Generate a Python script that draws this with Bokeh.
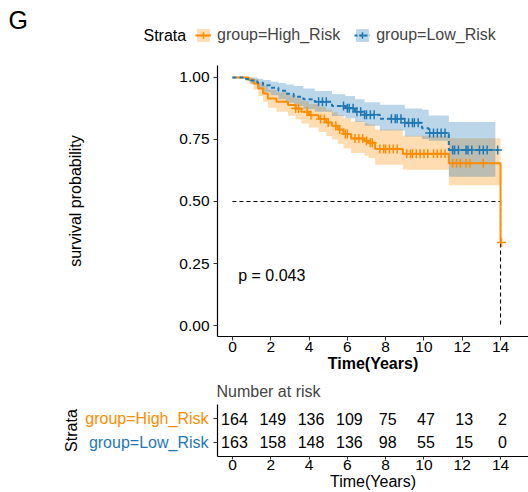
import numpy as np
from bokeh.plotting import figure
from bokeh.models import Range1d, FixedTicker, Label, Legend, LegendItem, ColumnDataSource
from bokeh.layouts import column, row
from bokeh.embed import file_html
from bokeh.resources import INLINE
from bokeh.core.properties import value

FONT = "Liberation Sans"
ORANGE = "#FF8C00"
BLUE = "#1F78B4"

groups = ["group=High_Risk", "group=Low_Risk"]
legend_title = "Strata"
panel_tag = "G"

# High risk KM steps
high_t = [0, 0.85, 1.1, 1.35, 1.6, 1.85, 2.3, 2.9, 3.3, 3.6, 4.0, 4.5, 4.9, 5.2, 5.5, 5.8, 6.2, 6.9, 7.1, 7.45, 8.9, 11.3, 14.0]
high_s = [1.0, 0.991, 0.975, 0.955, 0.935, 0.915, 0.902, 0.889, 0.875, 0.862, 0.848, 0.832, 0.818, 0.805, 0.79, 0.772, 0.754, 0.745, 0.737, 0.712, 0.692, 0.654, 0.335]
high_lo = [1.0, 0.974, 0.95, 0.925, 0.902, 0.878, 0.862, 0.846, 0.83, 0.814, 0.798, 0.78, 0.764, 0.75, 0.733, 0.714, 0.695, 0.684, 0.675, 0.648, 0.628, 0.565]
high_up = [1.0, 1.0, 0.995, 0.982, 0.967, 0.95, 0.94, 0.928, 0.916, 0.905, 0.893, 0.882, 0.87, 0.86, 0.848, 0.835, 0.822, 0.815, 0.81, 0.79, 0.765, 0.755]
high_end = 14.05
high_band_end = 14.0
high_censor = [3.3, 3.45, 3.9, 4.1, 4.6, 4.8, 5.0, 5.4, 5.6, 5.9, 6.0, 6.4, 6.6, 6.8, 7.0, 7.2, 7.3, 7.7, 7.9, 8.0,
               8.2, 8.4, 8.6, 9.1, 9.3, 9.4, 9.6, 9.8, 10.0, 10.2, 10.5, 10.7, 10.9, 11.1, 11.5, 11.7, 11.9,
               12.2, 12.4, 13.1, 14.05]

# Low risk KM steps
low_t = [0, 0.7, 0.95, 1.3, 1.6, 2.0, 2.4, 2.8, 3.2, 3.7, 4.3, 5.2, 5.9, 6.4, 6.9, 7.7, 9.0, 9.9, 10.25, 11.3]
low_s = [1.0, 0.994, 0.988, 0.978, 0.968, 0.958, 0.946, 0.934, 0.922, 0.912, 0.902, 0.885, 0.876, 0.862, 0.85, 0.833, 0.817, 0.795, 0.776, 0.708]
low_lo = [1.0, 0.985, 0.972, 0.955, 0.94, 0.928, 0.912, 0.898, 0.885, 0.872, 0.862, 0.845, 0.835, 0.82, 0.805, 0.786, 0.762, 0.752, 0.745, 0.60]
low_up = [1.0, 1.0, 1.0, 0.995, 0.99, 0.983, 0.977, 0.971, 0.965, 0.955, 0.945, 0.932, 0.925, 0.912, 0.9, 0.89, 0.875, 0.87, 0.847, 0.82]
low_end = 13.9
low_band_end = 13.73
low_censor = [4.5, 4.7, 4.9, 5.8, 6.0, 6.1, 6.3, 6.5, 6.7, 6.9, 7.0, 7.2, 7.4, 8.3, 8.5, 8.6, 8.8, 9.0, 9.2, 9.4,
              9.5, 9.7, 10.3, 10.5, 10.7, 10.9, 11.1, 11.5, 11.6, 11.8, 12.2, 12.3, 12.5, 12.9, 13.1, 13.3, 13.85]

p_value_text = "p = 0.043"
median_level = 0.5

risk_times = [0, 2, 4, 6, 8, 10, 12, 14]
risk_high = [164, 149, 136, 109, 75, 47, 13, 2]
risk_low = [163, 158, 148, 136, 98, 55, 15, 0]
risk_rows = [1, 0]

y_ticks = [0, 0.25, 0.5, 0.75, 1.0]
y_tick_labels = ["0.00", "0.25", "0.50", "0.75", "1.00"]
x_ticks = [0, 2, 4, 6, 8, 10, 12, 14]


def surv_at(ts, ss, times):
    idx = np.searchsorted(np.asarray(ts), np.asarray(times), side="right") - 1
    return np.asarray(ss)[idx]


def style_axes(fig, tick_size="15.5px"):
    fig.xgrid.visible = False
    fig.ygrid.visible = False
    fig.outline_line_color = None
    for ax in fig.xaxis + fig.yaxis:
        ax.axis_line_color = "black"
        ax.axis_line_width = 1.2
        ax.major_tick_line_color = "#333333"
        ax.major_tick_out = 4
        ax.major_tick_in = 0
        ax.minor_tick_line_color = None
        ax.major_label_text_font = FONT
        ax.major_label_text_font_size = tick_size
        ax.major_label_text_color = "black"
        ax.axis_label_text_font = FONT
        ax.axis_label_text_font_size = "16px"
        ax.axis_label_text_color = "black"
        ax.axis_label_text_font_style = "normal"


def blank_fig(w, h, y_range=None):
    f = figure(width=w, height=h, x_range=Range1d(0, w),
               y_range=y_range if y_range is not None else Range1d(h, 0),
               output_backend="svg", toolbar_location=None,
               min_border_left=0, min_border_right=0, min_border_top=0, min_border_bottom=0)
    f.axis.visible = False
    f.grid.visible = False
    f.outline_line_color = None
    return f


XR = (-0.78, 15.46)

# ---------- header: panel tag + legend ----------
hdr = blank_fig(528, 65)
hdr.add_layout(Label(x=8, y=19, text=panel_tag, text_font=FONT, text_font_size="25px",
                     text_align="left", text_baseline="middle", text_color="black"))
hdr.add_layout(Label(x=143, y=35, text=legend_title, text_font=FONT, text_font_size="16px",
                     text_align="left", text_baseline="middle", text_color="black"))
nan = np.array([np.nan])
key_src = ColumnDataSource(dict(left=nan, right=nan, top=nan, bottom=nan, x=nan, y=nan))
h_box = hdr.quad(source=key_src, left="left", right="right", top="top", bottom="bottom",
                 fill_color=ORANGE, fill_alpha=0.3, line_color=None)
h_line = hdr.line(source=key_src, x="x", y="y", line_color=ORANGE, line_width=2)
h_mark = hdr.scatter(source=key_src, x="x", y="y", marker="cross", line_color=ORANGE, line_width=1.5)
l_box = hdr.quad(source=key_src, left="left", right="right", top="top", bottom="bottom",
                 fill_color=BLUE, fill_alpha=0.3, line_color=None)
l_line = hdr.line(source=key_src, x="x", y="y", line_color=BLUE, line_width=2, line_dash="3 2")
l_mark = hdr.scatter(source=key_src, x="x", y="y", marker="cross", line_color=BLUE, line_width=1.5)
legend = Legend(items=[LegendItem(label=groups[0], renderers=[h_box, h_line, h_mark]),
                       LegendItem(label=groups[1], renderers=[l_box, l_line, l_mark])],
                orientation="horizontal", location=(195, 21), padding=0, margin=0,
                spacing=14, label_standoff=6, glyph_width=16, glyph_height=16,
                label_text_font=FONT, label_text_font_size="16px",
                background_fill_alpha=0, border_line_color=None)
hdr.add_layout(legend, "center")

# ---------- main survival plot ----------
p = figure(width=528, height=310, x_range=Range1d(*XR), y_range=Range1d(-0.044, 1.048),
           output_backend="svg", toolbar_location=None,
           min_border_left=217, min_border_right=0, min_border_top=0, min_border_bottom=39)
style_axes(p)
p.xaxis.ticker = FixedTicker(ticks=x_ticks)
p.yaxis.ticker = FixedTicker(ticks=y_ticks)
p.yaxis.major_label_overrides = {t: l for t, l in zip(y_ticks, y_tick_labels)}
p.xaxis.axis_label = "Time(Years)"
p.xaxis.axis_label_text_font_style = "bold"
p.xaxis.major_label_standoff = 1
p.xaxis.axis_label_standoff = 0
p.yaxis.axis_label = "survival probability"
p.yaxis.major_label_standoff = 4
p.yaxis.axis_label_standoff = 92

hb_x = high_t[:len(high_lo)] + [high_band_end]
p.varea_step(x=hb_x, y1=high_lo + [high_lo[-1]], y2=high_up + [high_up[-1]],
             step_mode="after", fill_color=ORANGE, fill_alpha=0.3)
lb_x = low_t[:len(low_lo)] + [low_band_end]
p.varea_step(x=lb_x, y1=low_lo + [low_lo[-1]], y2=low_up + [low_up[-1]],
             step_mode="after", fill_color=BLUE, fill_alpha=0.3)

t_med = float(np.asarray(high_t)[np.asarray(high_s) <= median_level][0])
p.line([0, t_med], [median_level, median_level], line_color="black", line_dash="4 3", line_width=1.1)
p.line([t_med, t_med], [median_level, 0], line_color="black", line_dash="4 3", line_width=1.1)

p.step(x=high_t + [high_end], y=high_s + [high_s[-1]], mode="after", line_color=ORANGE, line_width=2)
p.step(x=low_t + [low_end], y=low_s + [low_s[-1]], mode="after", line_color=BLUE, line_width=2,
       line_dash="4 3")
p.scatter(x=high_censor, y=surv_at(high_t, high_s, high_censor), marker="cross", size=9,
          line_color=ORANGE, line_width=1.5)
p.scatter(x=low_censor, y=surv_at(low_t, low_s, low_censor), marker="cross", size=9,
          line_color=BLUE, line_width=1.5)

p.add_layout(Label(x=0.3, y=0.2, text=p_value_text, text_font=FONT, text_font_size="16px",
                   text_align="left", text_baseline="middle", text_color="black"))

# ---------- risk table ----------
LW = 209
RY = Range1d(-0.62, 1.625)
r = figure(width=528 - LW, height=117, x_range=Range1d(*XR), y_range=RY,
           output_backend="svg", toolbar_location=None, title="Number at risk",
           min_border_left=217 - LW, min_border_right=0, min_border_top=28, min_border_bottom=34)
style_axes(r)
r.title.text_font = FONT
r.title.text_font_size = "16px"
r.title.text_font_style = "normal"
r.title.align = "left"
r.title.offset = -1
r.xaxis.ticker = FixedTicker(ticks=x_ticks)
r.yaxis.ticker = FixedTicker(ticks=risk_rows)
r.yaxis.major_label_overrides = {0: "", 1: ""}
r.yaxis.major_label_standoff = 0
r.xaxis.axis_label = "Time(Years)"
r.xaxis.major_tick_out = 3
r.xaxis.major_label_standoff = 0
r.xaxis.axis_label_standoff = 0

src = ColumnDataSource(dict(x=risk_times + risk_times,
                            y=[risk_rows[0]] * len(risk_times) + [risk_rows[1]] * len(risk_times),
                            t=[str(v) for v in risk_high + risk_low]))
r.text(x="x", y="y", text="t", source=src, text_font=value(FONT), text_font_size="16px",
       text_align="center", text_baseline="middle", text_color="black", x_offset=2)

rl = blank_fig(LW, 117, y_range=RY)
rl.add_layout(Label(x=71, y=sum(risk_rows) / 2, text=legend_title, text_font=FONT, text_font_size="16px",
                    angle=np.pi / 2, text_align="center", text_baseline="middle", text_color="black"))
rl.add_layout(Label(x=LW - 1, y=risk_rows[0], text=groups[0], text_color=ORANGE, text_font=FONT,
                    text_font_size="16px", text_align="right", text_baseline="middle"))
rl.add_layout(Label(x=LW - 1, y=risk_rows[1], text=groups[1], text_color=BLUE, text_font=FONT,
                    text_font_size="16px", text_align="right", text_baseline="middle"))

layout = column(row(hdr, spacing=0), p, row(rl, r, spacing=0), spacing=0)
open("out.html", "w").write(file_html(layout, INLINE))
